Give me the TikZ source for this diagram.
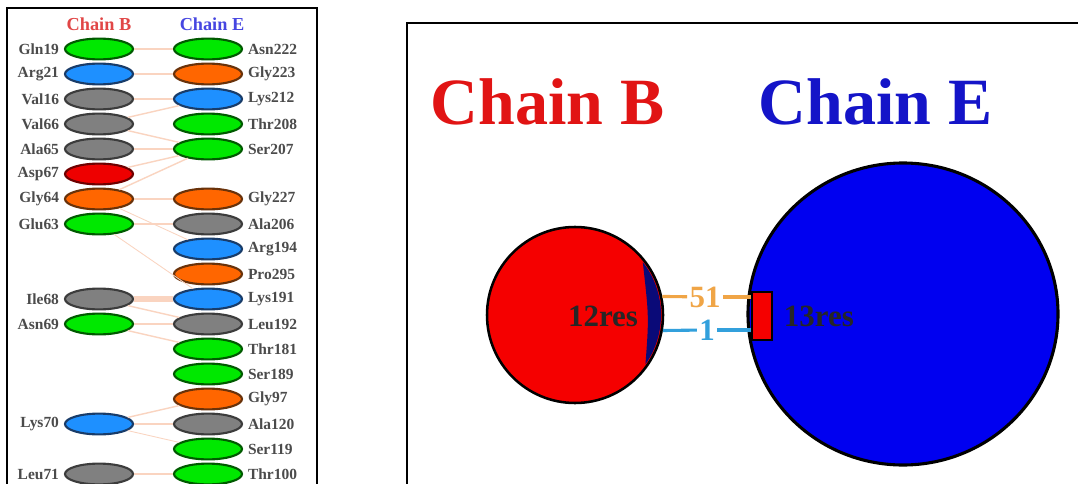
\documentclass[tikz,border=0pt]{standalone}
\usepackage{fontspec}
\setmainfont{Liberation Serif}
\usetikzlibrary{shapes,arrows,positioning,calc}

\definecolor{resgreen}{RGB}{0,232,0}
\definecolor{resgreenline}{RGB}{0,90,0}
\definecolor{resblue}{RGB}{30,144,255}
\definecolor{resblueline}{RGB}{25,60,105}
\definecolor{resgray}{RGB}{128,128,128}
\definecolor{resgrayline}{RGB}{60,60,60}
\definecolor{resorange}{RGB}{255,102,0}
\definecolor{resorangeline}{RGB}{105,50,10}
\definecolor{resred}{RGB}{238,0,0}
\definecolor{resredline}{RGB}{110,0,0}
\definecolor{linkpeach}{RGB}{250,212,192}
\definecolor{labgray}{RGB}{75,75,75}
\definecolor{headred}{RGB}{225,70,70}
\definecolor{headblue}{RGB}{70,70,225}
\definecolor{chainred}{RGB}{245,0,0}
\definecolor{chainblue}{RGB}{0,0,240}
\definecolor{bandblue}{RGB}{10,10,120}
\definecolor{titlered}{RGB}{225,20,20}
\definecolor{titleblue}{RGB}{20,20,200}
\definecolor{contactorange}{RGB}{240,165,70}
\definecolor{contactblue}{RGB}{50,160,220}

\begin{document}
\begin{tikzpicture}[x=0.25mm, y=0.25mm,
    res/.style={ellipse, draw, line width=1.5pt, minimum width=17mm, minimum height=5.2mm, inner sep=0pt},
    resG/.style={res, fill=resgreen, draw=resgreenline},
    resB/.style={res, fill=resblue, draw=resblueline},
    resY/.style={res, fill=resgray, draw=resgrayline},
    resO/.style={res, fill=resorange, draw=resorangeline},
    resR/.style={res, fill=resred, draw=resredline},
    labtext/.style={font=\bfseries\fontsize{11}{13}\selectfont, text=labgray},
    link/.style={draw=linkpeach, line width=1pt},
    frame/.style={draw=black, line width=1.4pt},
    contact/.style={line width=2.2pt},
    big/.style={font=\bfseries\fontsize{22}{24}\selectfont}
]

\useasboundingbox (0,0) rectangle (1078,483);
\clip (0,0) rectangle (1078,483);
\fill[white] (0,0) rectangle (1078,483);

% Frames
\draw[frame] (7,-10) rectangle (317,475);
\draw[frame] (407,-10) rectangle (1090,460);

% Residue headers
\node[font=\bfseries\fontsize{13}{15}\selectfont, text=headred] (headB) at (99,459) {Chain B};
\node[font=\bfseries\fontsize{13}{15}\selectfont, text=headblue] (headE) at (212,459) {Chain E};

% Chain B residues
\node[resG, label={[labtext]left:Gln19}] (gln19) at (99,434) {};
\node[resB, label={[labtext]left:Arg21}] (arg21) at (99,409) {};
\node[resY, label={[labtext]left:Val16}] (val16) at (99,384) {};
\node[resY, label={[labtext]left:Val66}] (val66) at (99,359) {};
\node[resY, label={[labtext]left:Ala65}] (ala65) at (99,334) {};
\node[resR, label={[labtext]left:Asp67}] (asp67) at (99,309) {};
\node[resO, label={[labtext]left:Gly64}] (gly64) at (99,284) {};
\node[resG, label={[labtext]left:Glu63}] (glu63) at (99,259) {};
\node[resY, label={[labtext]left:Ile68}] (ile68) at (99,184) {};
\node[resG, label={[labtext]left:Asn69}] (asn69) at (99,159) {};
\node[resB, label={[labtext]left:Lys70}] (lys70) at (99,59) {};
\node[resY, label={[labtext]left:Leu71}] (leu71) at (99,9) {};

% Chain E residues
\node[resG, label={[labtext]right:Asn222}] (asn222) at (208,434) {};
\node[resO, label={[labtext]right:Gly223}] (gly223) at (208,409) {};
\node[resB, label={[labtext]right:Lys212}] (lys212) at (208,384) {};
\node[resG, label={[labtext]right:Thr208}] (thr208) at (208,359) {};
\node[resG, label={[labtext]right:Ser207}] (ser207) at (208,334) {};
\node[resO, label={[labtext]right:Gly227}] (gly227) at (208,284) {};
\node[resY, label={[labtext]right:Ala206}] (ala206) at (208,259) {};
\node[resB, label={[labtext]right:Arg194}] (arg194) at (208,234) {};
\node[resO, label={[labtext]right:Pro295}] (pro295) at (208,209) {};
\node[resB, label={[labtext]right:Lys191}] (lys191) at (208,184) {};
\node[resY, label={[labtext]right:Leu192}] (leu192) at (208,159) {};
\node[resG, label={[labtext]right:Thr181}] (thr181) at (208,134) {};
\node[resG, label={[labtext]right:Ser189}] (ser189) at (208,109) {};
\node[resO, label={[labtext]right:Gly97}] (gly97) at (208,84) {};
\node[resY, label={[labtext]right:Ala120}] (ala120) at (208,59) {};
\node[resG, label={[labtext]right:Ser119}] (ser119) at (208,34) {};
\node[resG, label={[labtext]right:Thr100}] (thr100) at (208,9) {};

% Residue contacts
\draw[link] (gln19) -- (asn222);
\draw[link, line width=2pt] (arg21) -- (gly223);
\draw[link] (val16) -- (lys212);
\draw[link] (val66) -- (lys212);
\draw[link] (val66) -- (ser207);
\draw[link, line width=1.6pt] (ala65) -- (ser207);
\draw[link] (asp67) -- (ser207);
\draw[link] (gly64) -- (ser207);
\draw[link] (gly64) -- (gly227);
\draw[link] (glu63) -- (ala206);
\draw[link, line width=0.6pt] (glu63) -- (lys191);
\draw[link, line width=0.6pt] (gly64) -- (arg194);
\draw[link, line width=4pt] (ile68) -- (lys191);
\draw[link] (ile68) -- (leu192);
\draw[link] (asn69) -- (leu192);
\draw[link] (asn69) -- (thr181);
\draw[link] (lys70) -- (gly97);
\draw[link, line width=1.6pt] (lys70) -- (ala120);
\draw[link, line width=0.6pt] (lys70) -- (ser119);
\draw[link] (leu71) -- (thr100);

% Chain overview
\node[font=\bfseries\fontsize{47}{50}\selectfont, text=titlered, anchor=base west] (titleB) at (426,359) {Chain B};
\node[font=\bfseries\fontsize{47}{50}\selectfont, text=titleblue, anchor=base west] (titleE) at (754,359) {Chain E};

\node[circle, draw=black, line width=1.8pt, fill=chainred, minimum size=44mm, inner sep=0pt] (chainB) at (575,168) {};
\fill[bandblue, shift={(575,168)}] (38:86) arc[start angle=38, end angle=-35, radius=86] .. controls (74,-2) .. (38:86);
\node[ellipse, draw=black, line width=2.2pt, fill=chainblue, minimum width=77.5mm, minimum height=75.5mm, inner sep=0pt] (chainE) at (903,169) {};
\node[rectangle, draw=black, line width=1.4pt, fill=chainred, minimum width=5.2mm, minimum height=12mm, inner sep=0pt] (patchE) at (762,167) {};

\node[big, text=black!85] (resB) at (603,167) {12res};
\node[big, text=black!85, anchor=west] (resE) at (779,167) {13res};

% Interface contacts
\node[big, text=contactorange, inner sep=1.5pt] (n51) at (705,186) {51};
\draw[contact, draw=contactorange] (chainB.12) -- (n51);
\draw[contact, draw=contactorange] (n51) -- (patchE.west |- n51);
\node[big, text=contactblue, inner sep=1.5pt] (n1) at (707,153) {1};
\draw[contact, draw=contactblue] (chainB.-10) -- (n1);
\draw[contact, draw=contactblue] (n1) -- (patchE.west |- n1);

\end{tikzpicture}
\end{document}
